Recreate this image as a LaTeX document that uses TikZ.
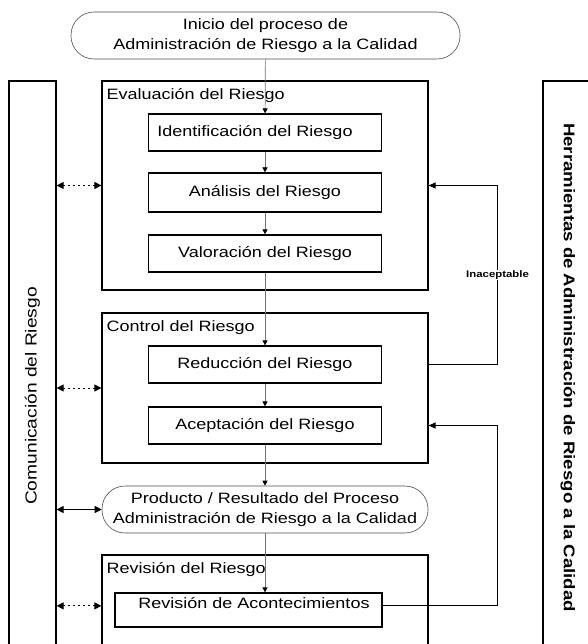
\documentclass[tikz,border=0pt]{standalone}
\usepackage{fontspec}
\setmainfont{Liberation Sans}[FakeStretch=1.2]
\usetikzlibrary{arrows.meta}
\begin{document}
\begin{tikzpicture}
[
    x=1pt, y=-1pt,
    every node/.style={font=\fontsize{15}{20}\selectfont},
    stage/.style={draw, line width=1.2pt, minimum width=326pt},
    task/.style={draw, line width=1.2pt, minimum width=233pt, minimum height=37pt},
    terminal/.style={draw=black!70, line width=0.6pt, rounded corners=23pt, align=center, minimum height=47pt, inner sep=0pt},
    side/.style={draw, line width=1.2pt, inner sep=0pt},
    title/.style={anchor=north west, inner sep=0pt, xshift=5pt, yshift=-8pt},
    flow/.style={draw=black!55, line width=0.7pt, -{Triangle[color=black,length=5pt,width=5pt]}},
    talk/.style={line width=1pt, {Triangle[length=7pt,width=7pt]}-{Triangle[length=7pt,width=7pt]}},
    dots/.style={talk, dash pattern=on 1.5pt off 3.5pt},
    back/.style={line width=1.2pt, -{Triangle[length=7pt,width=6pt]}},
]
\useasboundingbox (0,0) rectangle (587,644);
\node[terminal, minimum width=389pt] (inicio) at (265.5,35.5) {Inicio del proceso de\\Administración de Riesgo a la Calidad};
\node[side, rotate=90, minimum width=630pt, minimum height=47pt, font=\fontsize{16}{18}\selectfont] (comm) at (32.5,396) {Comunicación del Riesgo};
\node[side, rotate=-90, minimum width=573pt, minimum height=50pt, font=\bfseries\fontsize{15.5}{18}\selectfont] (herr) at (568,367.5) {Herramientas de Administración de Riesgo a la Calidad};

\node[stage, minimum height=209pt, label={[title]north west:Evaluación del Riesgo}] (eval) at (265,185.5) {};
\node[task] (ident) at (265,132.5) {Identificación del Riesgo\hspace*{20pt}};
\node[task, minimum height=39pt] (anal) at (265,192.5) {Análisis del Riesgo};
\node[task] (valor) at (265,253.5) {Valoración del Riesgo};

\node[stage, minimum height=150pt, label={[title]north west:Control del Riesgo}] (control) at (265,388) {};
\node[task] (reduc) at (265,364.5) {Reducción del Riesgo};
\node[task] (acept) at (265,425.5) {Aceptación del Riesgo};

\node[terminal, minimum width=326pt] (prod) at (265,509.5) {Producto / Resultado del Proceso\\Administración de Riesgo a la Calidad};

\node[stage, minimum height=145pt, label={[title]north west:Revisión del Riesgo}] (revision) at (265,627.5) {};
\node[task, minimum width=267pt, minimum height=34pt, inner ysep=0pt, text height=15.5pt, text depth=18.5pt] (acont) at (248.5,610) {\hspace*{11pt}Revisión de Acontecimientos};

\draw[flow] (inicio) -- (ident);
\draw[flow] (ident) -- (anal);
\draw[flow] (anal) -- (valor);
\draw[flow] (valor) -- (reduc);
\draw[flow] (reduc) -- (acept);
\draw[flow] (acept) -- (prod);
\draw[flow] (prod.south) -- (prod.south |- acont.north);

\draw[dots] (comm.south |- eval.west) -- (eval.west);
\draw[dots] (comm.south |- control.west) -- (control.west);
\draw[talk] (comm.south |- prod.west) -- (prod.west);
\draw[dots] (comm.south |- acont.mid west) -- (revision.west |- acont.mid west);

\draw[back] (reduc -| control.east) -- ++(69,0) |- node[pos=0.25, fill=white, inner sep=1pt, font=\bfseries\fontsize{9.5}{11}\selectfont]{Inaceptable} (eval.east);
\draw[back] (acont.mid east) -- ++(115,0) |- (acept -| control.east);
\end{tikzpicture}
\end{document}
